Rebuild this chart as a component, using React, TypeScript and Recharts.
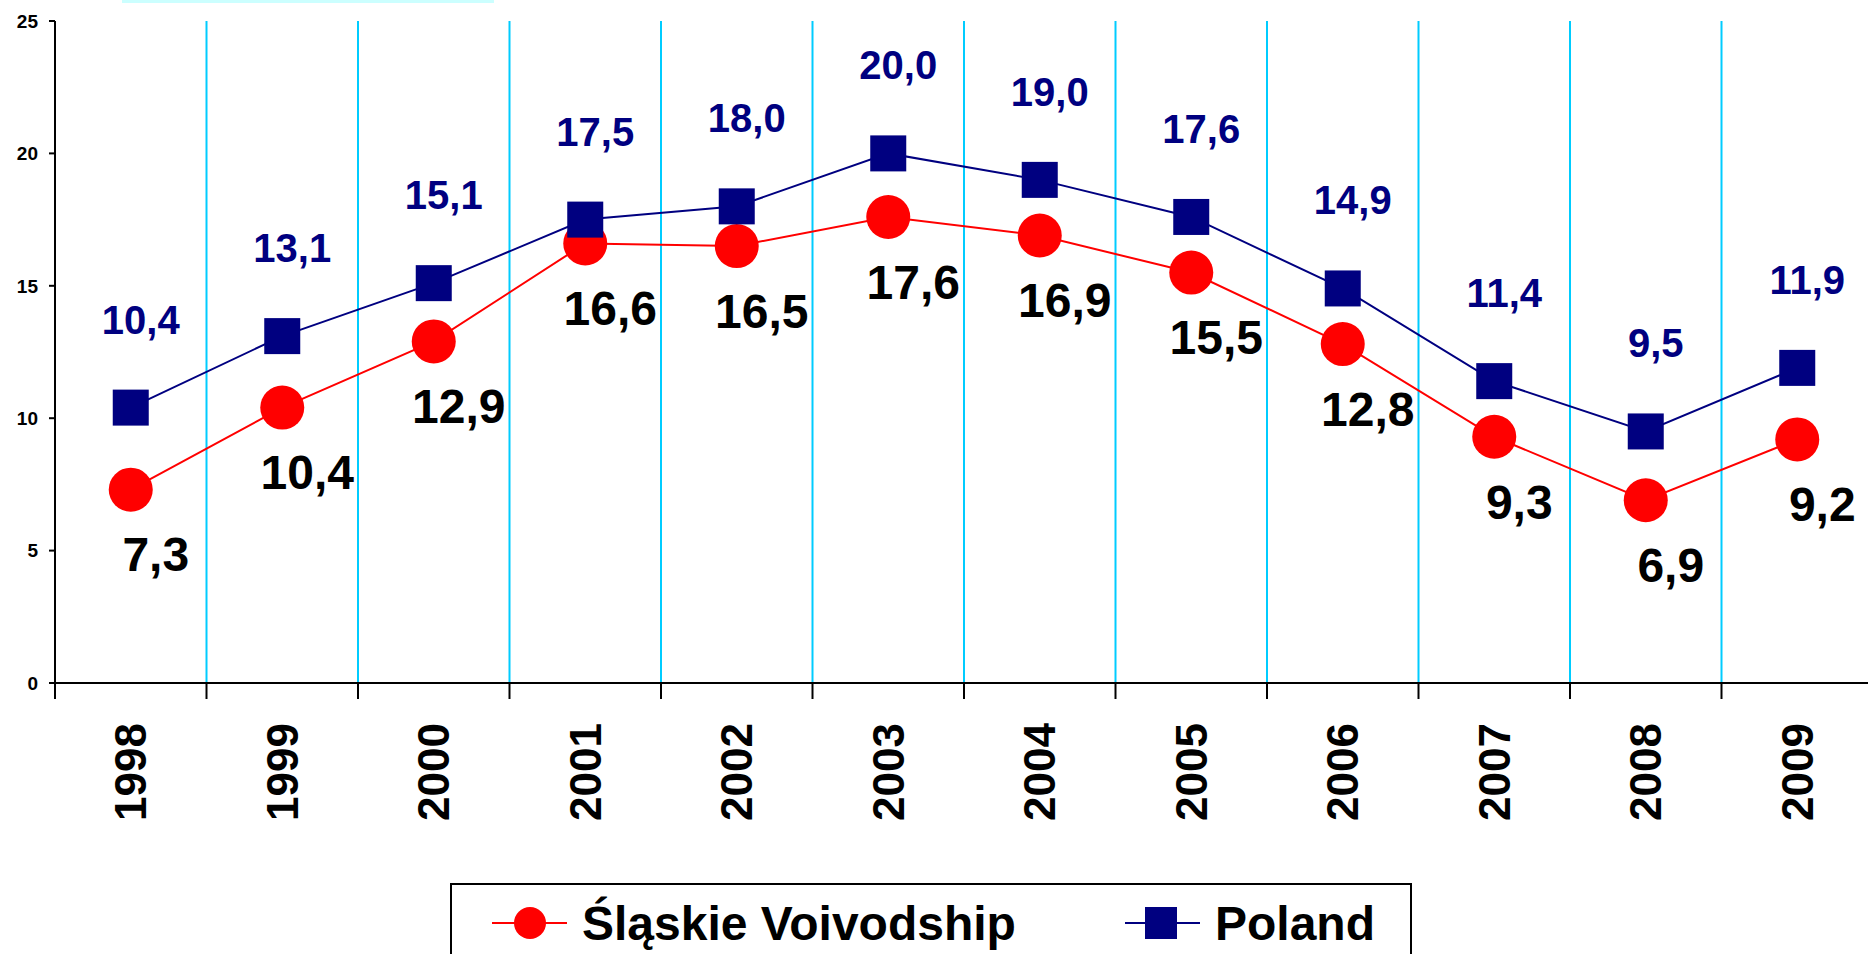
import React from 'react'
import { LineChart, Line, XAxis, YAxis, CartesianGrid, LabelList, Legend } from 'recharts'

const years = ['1998', '1999', '2000', '2001', '2002', '2003', '2004', '2005', '2006', '2007', '2008', '2009']
const slaskie = [7.3, 10.4, 12.9, 16.6, 16.5, 17.6, 16.9, 15.5, 12.8, 9.3, 6.9, 9.2]
const poland = [10.4, 13.1, 15.1, 17.5, 18.0, 20.0, 19.0, 17.6, 14.9, 11.4, 9.5, 11.9]
const yTicks = [0, 5, 10, 15, 20, 25]

const data = years.map((year, i) => ({
    year,
    x: i + 0.5,
    slaskie: slaskie[i],
    poland: poland[i],
}))

const boundTicks = years.map((_, i) => i).concat([years.length])
const yearTicks = years.map((_, i) => i + 0.5)

const FONT = '"Liberation Sans", Arial, sans-serif'
const RED = '#ff0000'
const NAVY = '#000080'
const fmt = (v: number) => v.toFixed(1).replace('.', ',')

const RedDot = (props: any) => {
    const { cx, cy } = props
    if (cx == null || cy == null) return null
    return <circle cx={cx} cy={cy} r={22} fill={RED} />
}

const NavySquare = (props: any) => {
    const { cx, cy } = props
    if (cx == null || cy == null) return null
    return <rect x={cx - 18} y={cy - 18} width={36} height={36} fill={NAVY} />
}

const slaskieLabel = (props: any) => {
    const { x, y, value } = props
    return (
        <text x={x + 25} y={y + 65} dy='0.35em' textAnchor='middle'
            fontFamily={FONT} fontWeight='bold' fontSize={48} fill='#000'>
            {fmt(value)}
        </text>
    )
}

const polandLabel = (props: any) => {
    const { x, y, value } = props
    return (
        <text x={x + 10} y={y - 88} dy='0.35em' textAnchor='middle'
            fontFamily={FONT} fontWeight='bold' fontSize={40} fill={NAVY}>
            {fmt(value)}
        </text>
    )
}

const YearTick = (props: any) => {
    const { x, y, payload } = props
    const label = years[Math.floor(payload.value)]
    return (
        <text x={x} y={y + 20} dy='0.35em' textAnchor='end'
            transform={`rotate(-90, ${x}, ${y + 20})`}
            fontFamily={FONT} fontWeight='bold' fontSize={44} fill='#000'>
            {label}
        </text>
    )
}

const LegendBox = () => (
    <div style={{ width: 958, height: 90, border: '2px solid #000', background: '#fff' }}>
        <svg width={958} height={90}>
            <line x1={40} x2={115} y1={38} y2={38} stroke={RED} strokeWidth={2} />
            <circle cx={78} cy={38} r={16} fill={RED} />
            <text x={130} y={38} dy='0.35em' fontFamily={FONT} fontWeight='bold' fontSize={48} fill='#000'>
                Śląskie Voivodship
            </text>
            <line x1={673} x2={748} y1={38} y2={38} stroke={NAVY} strokeWidth={2} />
            <rect x={693} y={22} width={32} height={32} fill={NAVY} />
            <text x={763} y={38} dy='0.35em' fontFamily={FONT} fontWeight='bold' fontSize={48} fill='#000'>
                Poland
            </text>
        </svg>
    </div>
)

export default function App() {
    return (
        <div style={{ position: 'absolute', left: 0, top: 0, width: 1868, height: 954, overflow: 'hidden', background: '#fff' }}>
            <div style={{ position: 'absolute', left: 122, top: 0, width: 372, height: 3, background: '#ccffff' }} />
            <LineChart width={1880} height={954} data={data}
                margin={{ top: 21, right: 7, bottom: 0, left: 0 }}>
                <CartesianGrid xAxisId='bounds' horizontal={false} stroke='#00ccff' strokeWidth={2} />
                <XAxis xAxisId='bounds' type='number' dataKey='x' domain={[0, years.length]}
                    ticks={boundTicks} interval={0} height={20} tickSize={16}
                    tickFormatter={() => ''}
                    axisLine={{ stroke: '#000', strokeWidth: 2 }}
                    tickLine={{ stroke: '#000', strokeWidth: 2 }} />
                <XAxis xAxisId='years' type='number' dataKey='x' domain={[0, years.length]}
                    ticks={yearTicks} interval={0} height={251} tickSize={0} tickMargin={0}
                    axisLine={false} tickLine={false} tick={<YearTick />} />
                <YAxis type='number' domain={[0, 25]} ticks={yTicks} width={55}
                    tickSize={6} tickMargin={11}
                    axisLine={{ stroke: '#000', strokeWidth: 2 }}
                    tickLine={{ stroke: '#000', strokeWidth: 2 }}
                    tick={{ fill: '#000', fontSize: 19, fontWeight: 'bold', fontFamily: FONT }} />
                <Legend layout='vertical' align='center' verticalAlign='middle'
                    wrapperStyle={{ position: 'absolute', left: 450, top: 883, width: 962 }}
                    content={() => <LegendBox />} />
                <Line xAxisId='bounds' dataKey='slaskie' name='Śląskie Voivodship' stroke={RED} strokeWidth={2}
                    dot={<RedDot />} activeDot={false} isAnimationActive={false}>
                    <LabelList dataKey='slaskie' content={slaskieLabel} />
                </Line>
                <Line xAxisId='bounds' dataKey='poland' name='Poland' stroke={NAVY} strokeWidth={2}
                    dot={<NavySquare />} activeDot={false} isAnimationActive={false}>
                    <LabelList dataKey='poland' content={polandLabel} />
                </Line>
            </LineChart>
        </div>
    )
}
